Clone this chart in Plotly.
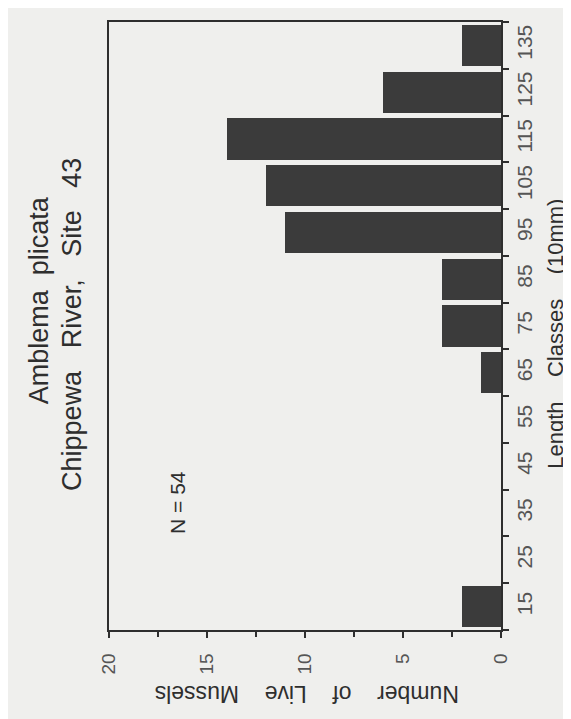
import plotly.graph_objects as go

# Data read from the (rotated) reference chart
length_classes = [15, 25, 35, 45, 55, 65, 75, 85, 95, 105, 115, 125, 135]
class_labels = ["15", "25", "35", "45", "55", "65", "75", "85", "95", "105", "115", "125", "135"]
live_mussels = [2, 0, 0, 0, 0, 1, 3, 3, 11, 12, 14, 6, 2]
bin_edges = [10, 20, 30, 40, 50, 60, 70, 80, 90, 100, 110, 120, 130, 140]
count_ticks = [0, 5, 10, 15, 20]
count_labels = ["0", "5", "10", "15", "20"]

BG = "#efefed"
INK = "#2e2e2e"
TICKINK = "#555555"
NB = "\u00a0"

fig = go.Figure()
fig.add_trace(go.Bar(
    x=live_mussels,
    y=length_classes,
    orientation="h",
    width=8.8,
    marker=dict(color="#3b3b3b", line=dict(width=0)),
    hoverinfo="x+y",
))

fig.update_layout(
    width=571, height=719,
    margin=dict(l=101, r=78, t=14, b=97),
    paper_bgcolor=BG, plot_bgcolor=BG,
    showlegend=False,
    font=dict(family="Liberation Sans, Arial, sans-serif", color=INK),
    bargap=0,
)

fig.update_xaxes(
    range=[20, 0],
    tickmode="array", tickvals=count_ticks, ticktext=count_labels,
    tickangle=-90,
    ticks="outside", ticklen=6, tickwidth=1.5, tickcolor=INK,
    minor=dict(dtick=2.5, tick0=0, ticks="outside", ticklen=5, tickwidth=1.5, tickcolor=INK),
    showline=True, linecolor=INK, linewidth=1.5, mirror=True,
    showgrid=False, zeroline=False,
    tickfont=dict(size=19, color=TICKINK),
    ticklabelstandoff=8,
)

fig.update_yaxes(
    range=[10, 140],
    side="right",
    tickmode="array", tickvals=length_classes, ticktext=class_labels,
    tickangle=-90,
    ticks="",
    minor=dict(tickvals=bin_edges, ticks="outside", ticklen=6, tickwidth=1.5, tickcolor=INK),
    showline=True, linecolor=INK, linewidth=1.5, mirror=True,
    showgrid=False, zeroline=False,
    tickfont=dict(size=21, color=TICKINK),
    ticklabelstandoff=4,
)

annotations = [
    dict(text="Amblema" + NB * 2 + "plicata", x=-0.18, y=0.543, textangle=-90,
         font=dict(size=27, color=INK)),
    dict(text="Chippewa" + NB * 3 + "River," + NB * 3 + "Site" + NB * 3 + "43", x=-0.095, y=0.503,
         textangle=-90, font=dict(size=27, color=INK)),
    dict(text="Length" + NB * 4 + "Classes" + NB * 4 + "(10mm)", x=1.14, y=0.487, textangle=-90,
         font=dict(size=22, color=INK)),
    dict(text="Number" + NB * 4 + "of" + NB * 4 + "Live" + NB * 4 + "Mussels", x=0.505, y=-0.105,
         textangle=180, font=dict(size=23, color=INK)),
    dict(text="N" + NB + "=" + NB + "54", x=0.175, y=0.21, textangle=-90,
         font=dict(size=21, color=INK)),
]
for a in annotations:
    a.update(xref="paper", yref="paper", showarrow=False, xanchor="center", yanchor="middle")
fig.update_layout(annotations=annotations)

fig.write_html("out.html")
